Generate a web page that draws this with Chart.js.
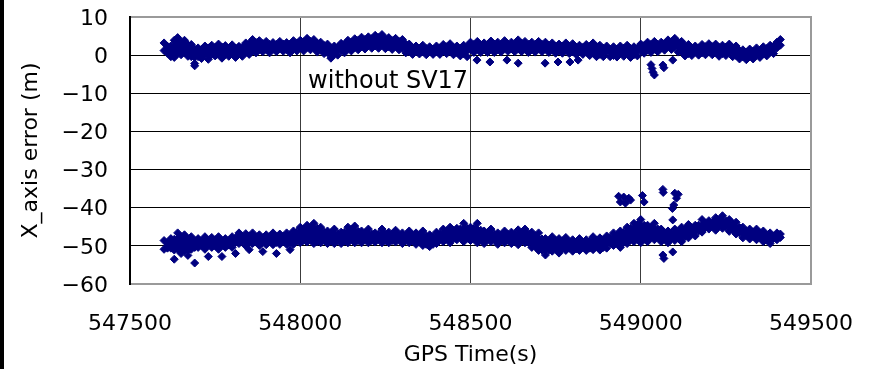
<!DOCTYPE html>
<html><head><meta charset="utf-8">
<script src="https://cdn.jsdelivr.net/npm/chart.js@4"></script>
<style>html,body{margin:0;padding:0;background:#fff;overflow:hidden}#wrap{width:873px;height:369px;position:relative}</style>
</head><body><div id="wrap"><canvas id="c" width="873" height="369"></canvas></div>
<script>
// GPS time of each sample (s)
const times = [
547600,547610,547620,547630,547640,547650,547660,547670,547680,547690,
547700,547710,547720,547730,547740,547750,547760,547770,547780,547790,
547800,547810,547820,547830,547840,547850,547860,547870,547880,547890,
547900,547910,547920,547930,547940,547950,547960,547970,547980,547990,
548000,548010,548020,548030,548040,548050,548060,548070,548080,548090,
548100,548110,548120,548130,548140,548150,548160,548170,548180,548190,
548200,548210,548220,548230,548240,548250,548260,548270,548280,548290,
548300,548310,548320,548330,548340,548350,548360,548370,548380,548390,
548400,548410,548420,548430,548440,548450,548460,548470,548480,548490,
548500,548510,548520,548530,548540,548550,548560,548570,548580,548590,
548600,548610,548620,548630,548640,548650,548660,548670,548680,548690,
548700,548710,548720,548730,548740,548750,548760,548770,548780,548790,
548800,548810,548820,548830,548840,548850,548860,548870,548880,548890,
548900,548910,548920,548930,548940,548950,548960,548970,548980,548990,
549000,549010,549020,549030,549040,549050,549060,549070,549080,549090,
549100,549110,549120,549130,549140,549150,549160,549170,549180,549190,
549200,549210,549220,549230,549240,549250,549260,549270,549280,549290,
549300,549310,549320,549330,549340,549350,549360,549370,549380,549390,
549400,549410
];
// without SV17: upper and lower envelope of the error band (m)
const withoutHigh = [
3.2,2.3,2.4,3.9,4.6,3.5,3.9,2.7,2.8,1.6,
1.9,1.5,2.4,1.9,2.6,2.0,2.9,2.1,2.5,1.8,
2.7,1.8,2.3,2.1,3.2,3.0,4.1,3.3,3.8,3.0,
3.6,2.8,3.3,2.8,3.6,2.9,3.3,2.9,3.8,3.2,
3.9,3.5,4.4,3.6,4.1,3.1,3.4,2.5,2.9,1.9,
2.4,2.1,3.1,2.9,3.9,3.4,4.3,3.9,4.7,4.1,
4.8,4.3,5.2,4.6,5.4,4.3,4.6,3.8,4.4,3.6,
4.1,2.9,2.9,1.9,2.4,1.8,2.6,1.7,2.2,1.6,
2.4,1.9,2.8,2.2,3.0,2.0,2.4,1.8,2.6,2.3,
3.4,2.8,3.6,2.7,3.2,2.7,3.7,2.8,3.4,2.9,
3.8,2.9,3.4,3.0,4.0,3.1,3.6,2.8,3.4,2.8,
3.6,2.8,3.4,2.6,3.2,2.3,2.9,2.3,3.2,2.4,
3.0,2.1,2.6,2.0,2.8,2.3,3.2,2.2,2.6,1.8,
2.4,1.6,2.2,1.6,2.4,1.8,2.6,1.7,2.2,1.8,
2.9,2.5,3.4,2.8,3.6,2.8,3.4,3.0,4.0,3.5,
4.4,3.3,3.6,2.5,2.8,1.9,2.4,1.9,2.8,2.2,
3.0,2.2,2.9,2.0,2.6,2.1,2.9,1.9,2.4,1.2,
1.4,0.8,1.6,1.0,1.9,1.3,2.2,1.7,2.6,2.3,
3.4,4.1
];
const withoutLow = [
1.2,0.5,-0.4,-0.6,0.4,0.1,0.7,-0.3,-0.4,-2.2,
-0.4,-0.9,0.1,-1.1,0.2,-0.2,0.4,-0.8,0.2,-0.3,
0.6,-0.6,0.4,-0.3,0.7,0.2,1.2,0.6,1.5,0.9,
1.5,0.6,1.6,0.9,1.7,1.0,1.5,0.6,1.7,1.1,
2.0,1.1,2.1,1.4,1.9,0.8,1.4,0.4,0.6,-0.8,
0.2,0.0,1.2,0.6,1.7,1.1,2.0,1.4,2.3,1.6,
2.6,1.8,2.4,1.8,2.8,1.7,2.2,1.5,2.4,1.4,
1.9,0.6,0.9,0.2,1.2,0.3,0.9,0.1,1.0,0.2,
0.9,0.2,1.1,0.4,1.2,0.1,0.7,-0.2,0.4,-0.4,
1.4,0.7,1.6,0.7,1.4,0.7,1.6,0.7,1.4,0.8,
1.9,1.0,1.6,0.9,1.8,0.9,1.6,0.7,1.4,0.8,
1.8,0.9,1.6,0.7,1.4,0.5,1.2,0.5,1.4,0.4,
0.9,0.2,1.2,0.2,0.9,-0.1,0.6,-0.4,0.2,-0.4,
0.9,-0.4,-0.1,-0.5,0.7,-0.3,0.4,-0.6,0.1,-0.2,
1.2,0.5,1.4,0.7,1.6,0.9,1.9,1.3,2.4,1.5,
2.2,0.8,0.9,-0.2,0.4,-0.1,0.9,0.0,0.6,0.1,
1.2,0.1,0.7,-0.3,0.4,-0.1,0.9,-0.4,-0.1,-1.0,
-0.4,-1.2,-0.4,-1.0,0.1,-0.6,0.4,-0.2,0.9,0.4,
1.9,2.6
];
// with SV17: upper and lower envelope of the error band (m)
const withHigh = [
-48.6,-49.2,-48.1,-48.3,-46.6,-47.6,-47.1,-48.2,-47.6,-48.7,
-48.1,-48.7,-47.6,-48.5,-47.8,-48.4,-47.6,-48.6,-48.1,-48.6,
-47.6,-47.9,-46.6,-47.5,-46.8,-47.4,-46.6,-47.7,-47.1,-47.9,
-47.1,-47.6,-46.6,-47.6,-46.9,-47.5,-46.6,-47.2,-46.1,-46.4,
-45.1,-45.6,-44.6,-45.2,-44.1,-45.4,-45.1,-46.4,-46.1,-46.6,
-45.6,-46.8,-46.4,-46.4,-45.1,-45.7,-44.8,-46.2,-46.1,-46.6,
-45.6,-46.9,-46.6,-46.9,-45.6,-46.8,-46.4,-46.9,-45.9,-47.0,
-46.6,-47.2,-46.1,-47.2,-46.6,-47.2,-46.1,-47.4,-47.1,-47.6,
-46.4,-46.8,-45.6,-46.2,-45.1,-46.0,-45.4,-45.6,-44.1,-45.4,
-45.1,-45.4,-44.1,-45.9,-46.1,-46.6,-45.6,-46.9,-46.6,-47.2,
-46.1,-47.0,-46.4,-46.9,-45.8,-46.5,-45.6,-46.8,-46.4,-47.4,
-46.6,-48.2,-48.1,-48.6,-47.6,-48.6,-48.1,-48.7,-47.8,-48.9,
-48.4,-49.0,-48.1,-49.0,-48.4,-48.8,-47.6,-48.6,-47.9,-48.4,
-47.4,-47.8,-46.6,-47.2,-46.1,-46.4,-45.1,-45.4,-44.1,-44.4,
-43.1,-44.6,-44.6,-45.2,-44.1,-45.6,-45.6,-46.6,-46.1,-46.6,
-45.6,-46.2,-45.1,-45.6,-44.4,-45.3,-44.6,-44.6,-43.1,-44.0,
-43.4,-43.8,-42.6,-43.2,-42.1,-43.4,-43.1,-44.2,-43.8,-45.2,
-45.1,-46.2,-45.6,-46.4,-45.6,-46.6,-46.1,-47.2,-46.6,-47.4,
-46.6,-46.9
];
const withLow = [
-50.9,-50.6,-50.6,-51.1,-50.9,-50.6,-51.2,-51.1,-50.9,-50.4,
-50.4,-49.9,-50.9,-49.8,-50.4,-50.0,-50.9,-49.9,-50.4,-49.8,
-50.4,-49.1,-49.4,-48.8,-50.0,-48.9,-49.4,-48.9,-49.9,-49.1,
-49.7,-48.6,-49.7,-49.1,-49.6,-48.6,-49.6,-49.1,-49.6,-48.6,
-49.2,-48.6,-49.0,-48.4,-49.4,-48.9,-49.2,-48.2,-49.4,-48.8,
-49.4,-48.4,-49.4,-48.8,-49.2,-48.2,-49.2,-48.6,-49.2,-48.3,
-49.2,-48.6,-49.0,-48.3,-49.2,-48.6,-49.2,-48.6,-49.0,-48.3,
-49.4,-48.4,-49.2,-48.6,-49.6,-48.9,-49.9,-49.6,-50.2,-49.6,
-49.4,-48.4,-48.9,-48.2,-49.2,-48.0,-48.4,-47.8,-48.9,-48.0,
-48.6,-48.1,-49.2,-48.5,-49.4,-48.3,-48.9,-48.4,-49.6,-48.6,
-49.2,-48.5,-49.4,-48.8,-49.7,-48.6,-49.2,-49.1,-50.4,-50.1,
-51.2,-51.1,-52.4,-51.1,-51.4,-50.8,-51.9,-50.6,-51.2,-50.6,
-51.4,-50.8,-51.2,-50.1,-51.2,-50.6,-51.0,-50.1,-51.1,-50.4,
-50.6,-49.4,-49.9,-49.4,-50.4,-49.1,-49.4,-48.4,-48.9,-48.2,
-49.2,-48.2,-48.9,-47.8,-48.4,-47.8,-48.9,-48.2,-49.2,-48.1,
-48.6,-47.9,-48.9,-47.6,-47.9,-46.8,-47.4,-46.1,-46.4,-45.2,
-45.6,-44.9,-45.9,-44.8,-45.4,-45.0,-46.2,-45.8,-46.9,-46.6,
-47.9,-47.2,-48.2,-47.5,-48.4,-47.8,-48.9,-48.4,-49.4,-48.1,
-48.4,-47.8
];
// isolated samples off the main bands
const extraTimesWithout = [547690,548519,548557,548607,548640,548719,548757,548792,548816,549030,549033,549036,549040,549065,549068,549094];
const extraErrWithout   = [-2.8,-1.3,-1.8,-1.3,-2.1,-2.1,-1.8,-1.8,-1.3,-2.5,-3.5,-4.5,-5.2,-2.6,-3.3,-1.3];
const extraTimesWith = [547630,547650,547670,547690,547730,547770,547810,547850,547890,547930,547970,
  548935,548940,548950,548955,548965,548970,549005,549010,549065,549066,549100,549105,549110,549097,549093,549094,549065,549068,549094];
const extraErrWith   = [-53.5,-52.0,-52.5,-54.5,-52.8,-52.8,-52.0,-51.0,-51.5,-52.0,-51.0,
  -37.0,-38.5,-37.2,-38.8,-37.5,-38.0,-36.8,-38.5,-35.2,-36.0,-36.2,-37.5,-36.5,-39.3,-40.2,-43.2,-52.4,-53.3,-51.6];

const xTicks = [547500,548000,548500,549000,549500];
const yTicks = [-60,-50,-40,-30,-20,-10,0,10];
const annotationText = 'without SV17';

function pts(t, v){ return t.map((x,i)=>({x:x, y:v[i]})); }

const FONT = 'DejaVu Sans';
const navy = '#000080';

const framePlugin = {
  id:'frame',
  beforeDraw(chart){
    const c = chart.ctx;
    c.save(); c.fillStyle='#fff'; c.fillRect(0,0,chart.width,chart.height);
    c.fillStyle='#000'; c.fillRect(0,0,4,chart.height); c.restore();
  },
  beforeDatasetsDraw(chart){
    const c = chart.ctx, a = chart.chartArea;
    c.save();
    c.strokeStyle='#9a9a9a'; c.lineWidth=2;
    c.beginPath();
    c.moveTo(a.left, a.top); c.lineTo(a.right, a.top); c.lineTo(a.right, a.bottom); c.lineTo(a.left, a.bottom);
    c.stroke();
    c.strokeStyle='#000'; c.lineWidth=2;
    c.beginPath(); c.moveTo(a.left, a.top-1); c.lineTo(a.left, a.bottom+1); c.stroke();
    c.restore();
  },
  afterDatasetsDraw(chart){
    const c = chart.ctx, xs = chart.scales.x, ys = chart.scales.y;
    c.save();
    c.font = '24px "'+FONT+'"'; c.fillStyle='#000'; c.textAlign='left'; c.textBaseline='middle';
    c.fillText(annotationText, xs.getPixelForValue(548023), ys.getPixelForValue(-7));
    c.restore();
  }
};

const pointOpts = { pointStyle:'rectRot', pointRadius:4, pointBorderWidth:1,
  pointBackgroundColor:navy, pointBorderColor:navy, pointHoverRadius:4 };
function band(data, fill){
  return Object.assign({ data:data, showLine:true, borderWidth:0, borderColor:'rgba(0,0,0,0)',
    backgroundColor:navy, fill:fill, tension:0 }, pointOpts);
}

new Chart(document.getElementById('c'), {
  type:'scatter',
  data:{ datasets:[
    band(pts(times, withHigh), '+1'),
    band(pts(times, withLow), false),
    band(pts(times, withoutHigh), '+1'),
    band(pts(times, withoutLow), false),
    Object.assign({ data: pts(extraTimesWith, extraErrWith), showLine:false }, pointOpts),
    Object.assign({ data: pts(extraTimesWithout, extraErrWithout), showLine:false }, pointOpts)
  ]},
  options:{
    responsive:false, animation:false, devicePixelRatio:1,
    layout:{ padding:{ top:17, right:62, left:0, bottom:0 } },
    plugins:{ legend:{display:false}, tooltip:{enabled:false} },
    scales:{
      x:{ type:'linear', min:547500, max:549500,
        afterBuildTicks(s){ s.ticks = xTicks.map(v=>({value:v})); },
        afterFit(s){ s.height = 85; s.paddingLeft = 0; s.paddingRight = 0; },
        ticks:{ font:{family:FONT, size:22}, color:'#000', padding:27, maxRotation:0, callback:v=>String(v) },
        grid:{ drawTicks:false, lineWidth:1, color:c=> (c.tick && (c.tick.value===547500||c.tick.value===549500)) ? 'rgba(0,0,0,0)' : '#3c3c3c' },
        border:{ display:false },
        title:{ display:true, text:'GPS Time(s)', font:{family:FONT, size:22}, color:'#000', padding:{top:0,bottom:1} }
      },
      y:{ min:-60, max:10,
        afterBuildTicks(s){ s.ticks = yTicks.map(v=>({value:v})); },
        afterFit(s){ s.width = 130; s.paddingTop = 0; s.paddingBottom = 0; },
        ticks:{ font:{family:FONT, size:22}, color:'#000', padding:22, labelOffset:2, callback:v=>String(v).replace('-','\u2212') },
        grid:{ drawTicks:false, lineWidth:1, color:c=> (c.tick && (c.tick.value===10||c.tick.value===-60)) ? 'rgba(0,0,0,0)' : '#000' },
        border:{ display:false },
        title:{ display:true, text:'X_axis error (m)', font:{family:FONT, size:22}, color:'#000', padding:{top:18,bottom:0} }
      }
    }
  },
  plugins:[framePlugin]
});
</script>
</body></html>
